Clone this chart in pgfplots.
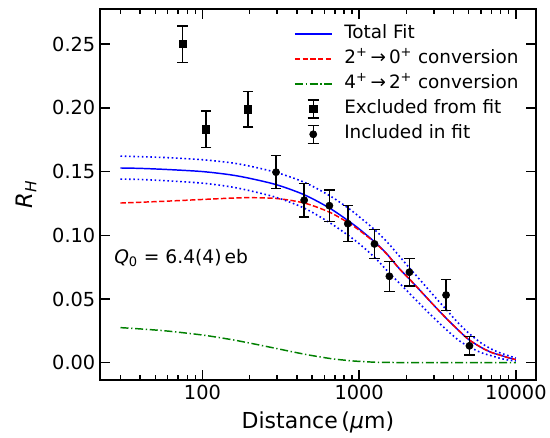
\documentclass[border=0pt]{standalone}
\usepackage{fontspec}
\setmainfont{DejaVu Sans}
\usepackage{pgfplots}
\usepackage{pgfplotstable}
\pgfplotsset{compat=1.18}
\definecolor{mplgreen}{RGB}{0,128,0}

\pgfplotstableread{
x blue red green up lo
30 0.1528 0.1253 0.0275 0.1621 0.1441
40 0.1525 0.1259 0.0265 0.1617 0.1438
60 0.1516 0.1268 0.0248 0.1609 0.1427
100 0.1500 0.1281 0.0217 0.1593 0.1409
150 0.1475 0.1291 0.0183 0.1570 0.1381
200 0.1447 0.1295 0.0154 0.1543 0.1350
300 0.1395 0.1288 0.0110 0.1491 0.1295
450 0.1316 0.1252 0.0066 0.1414 0.1211
650 0.1212 0.1180 0.0033 0.1310 0.1098
850 0.1115 0.1099 0.0017 0.1214 0.1000
1000 0.1050 0.1040 0.0010 0.1146 0.0934
1250 0.0950 0.0946 0.0004 0.1046 0.0829
1500 0.0855 0.0853 0.0002 0.0951 0.0725
1800 0.0740 0.0739 0.0001 0.0838 0.0626
2100 0.0655 0.0655 0.0000 0.0742 0.0543
2500 0.0555 0.0555 0.0000 0.0637 0.0448
3000 0.0450 0.0450 0.0000 0.0525 0.0351
3600 0.0348 0.0348 0.0000 0.0416 0.0260
4300 0.0255 0.0255 0.0000 0.0310 0.0177
5000 0.0182 0.0182 0.0000 0.0232 0.0127
6000 0.0120 0.0120 0.0000 0.0155 0.0079
7000 0.0080 0.0080 0.0000 0.0106 0.0054
8000 0.0058 0.0058 0.0000 0.0075 0.0033
9000 0.0038 0.0038 0.0000 0.0054 0.0020
10000 0.0024 0.0024 0.0000 0.0036 0.0014
}\fits

\pgfplotstableread{
x y e
74.5 0.2500 0.0144
105.6 0.1832 0.0143
195.7 0.1989 0.0141
}\excluded

\pgfplotstableread{
x y e
295 0.1495 0.0130
446 0.1275 0.0130
646 0.1232 0.0123
847 0.1091 0.0141
1253 0.0932 0.0115
1560 0.0678 0.0118
2094 0.0710 0.0107
3589 0.0531 0.0123
5058 0.0132 0.0072
}\included

\pgfplotsset{
  errlegend/.style={legend image code/.code={
    \path[draw=none, fill=none] (0pt,-4pt) rectangle (27.5pt,4pt);
    \draw[black, solid, line width=1.1pt, overlay] (13.75pt,-6.75pt) -- (13.75pt,6.75pt);
    \draw[black, solid, line width=1.1pt, overlay] (9.6pt,-6.75pt) -- (17.9pt,-6.75pt);
    \draw[black, solid, line width=1.1pt, overlay] (9.6pt,6.75pt) -- (17.9pt,6.75pt);
    \draw[mark repeat=2, mark phase=2, #1, overlay] plot coordinates {(0pt,0pt) (13.75pt,0pt) (27.5pt,0pt)};
  }},
}

\begin{document}
\begin{tikzpicture}
\begin{axis}[
  scale only axis,
  width=326.8pt, height=278.25pt,
  xmode=log,
  xmin=22.2, xmax=13400,
  ymin=-0.0136, ymax=0.2776,
  xtick={100,1000,10000},
  xticklabels={100,1000,10000},
  minor xtick={30,40,50,60,70,80,90,200,300,400,500,600,700,800,900,2000,3000,4000,5000,6000,7000,8000,9000},
  ytick={0,0.05,0.10,0.15,0.20,0.25},
  yticklabel style={/pgf/number format/.cd, fixed, fixed zerofill, precision=2, assume math mode=true},
  tick label style={font=\fontsize{14.5}{17}\selectfont},
  tick align=inside,
  major tick length=7.5pt,
  minor tick length=3.5pt,
  every tick/.style={black, line width=1.1pt},
  axis line style={line width=1.4pt},
  xlabel={Distance\,(\textit{μ}m)},
  ylabel={\textit{R}\raisebox{-0.35ex}{\fontsize{11.5}{12}\selectfont\textit{H}}},
  every axis x label/.style={at={(axis description cs:0.5,0)}, anchor=center, yshift=-31.5pt, font=\fontsize{16.5}{19}\selectfont},
  every axis y label/.style={at={(axis description cs:-0.17,0.5)}, anchor=center, rotate=90, font=\fontsize{17}{19}\selectfont},
  legend style={at={(axis description cs:0.445,0.957)}, anchor=north west, draw=none, fill=none,
    inner sep=0pt, row sep=5.6pt, column sep=0pt,
    font=\fontsize{13.8}{16}\selectfont,
    nodes={text height=10pt, text depth=3.2pt, inner ysep=0pt, inner xsep=9pt}},
  legend cell align=left,
  legend image code/.code={\draw[#1] (0pt,0pt) -- (27.5pt,0pt);},
  clip=false,
]
\addplot[blue, line width=1.1pt, smooth] table[x=x, y=blue] {\fits};
\addlegendentry{Total Fit}
\addplot[red, line width=1.1pt, smooth, dash pattern=on 4pt off 1.8pt] table[x=x, y=red] {\fits};
\addlegendentry{2\textsuperscript{+}\,→\,0\textsuperscript{+} conversion}
\addplot[mplgreen, line width=1.1pt, smooth, dash pattern=on 6pt off 2pt on 1pt off 2pt] table[x=x, y=green] {\fits};
\addlegendentry{4\textsuperscript{+}\,→\,2\textsuperscript{+} conversion}
\addplot[blue, line width=1.2pt, smooth, dash pattern=on 1.2pt off 2pt, forget plot] table[x=x, y=up] {\fits};
\addplot[blue, line width=1.2pt, smooth, dash pattern=on 1.2pt off 2pt, forget plot] table[x=x, y=lo] {\fits};
\addplot[black, only marks, mark=square*, mark size=2.65pt, errlegend,
  error bars/.cd, y dir=both, y explicit, error bar style={line width=1.1pt},
  error mark options={rotate=90, mark size=3.9pt, line width=1.1pt}]
  table[x=x, y=y, y error=e] {\excluded};
\addlegendentry{Excluded from fit}
\addplot[black, only marks, mark=*, mark size=2.7pt, errlegend,
  error bars/.cd, y dir=both, y explicit, error bar style={line width=1.1pt},
  error mark options={rotate=90, mark size=3.9pt, line width=1.1pt}]
  table[x=x, y=y, y error=e] {\included};
\addlegendentry{Included in fit}
\node[anchor=west, font=\fontsize{14}{16}\selectfont] at (rel axis cs:0.022,0.328) {\textit{Q}\textsubscript{0} = 6.4(4)\,eb};
\end{axis}
\pgfresetboundingbox
\path[use as bounding box] ([xshift=-75pt,yshift=-43.5pt]current axis.south west) rectangle ([xshift=10.7pt,yshift=6.75pt]current axis.north east);
\end{tikzpicture}
\end{document}
